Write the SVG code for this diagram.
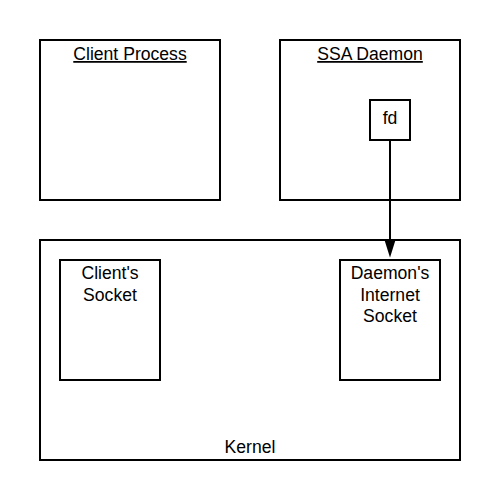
<svg xmlns="http://www.w3.org/2000/svg" width="500" height="500" viewBox="0 0 500 500">
<style>
rect{fill:#fff;stroke:#000;stroke-width:2}
text{font-family:"Liberation Sans",Arial,sans-serif;font-size:17.6px;fill:#000;text-anchor:middle}
.u{text-decoration:underline}
</style>
<defs>
<marker id="ah" markerUnits="userSpaceOnUse" markerWidth="12" markerHeight="18" refX="5" refY="17" orient="auto-start-reverse" viewBox="0 0 10 18">
<path d="M0,0 L5,17 L10,0 Z" fill="#000"/>
</marker>
</defs>
<rect width="500" height="500" style="stroke:none"/>
<g id="client-process"><rect x="40" y="40" width="180" height="160"/><text class="u" x="130" y="60">Client Process</text></g>
<g id="ssa-daemon"><rect x="280" y="40" width="180" height="160"/><text class="u" x="370" y="60">SSA Daemon</text></g>
<g id="kernel"><rect x="40" y="240" width="420" height="220"/><text x="250" y="452.5">Kernel</text></g>
<g id="fd"><rect x="370" y="100" width="40" height="40"/><text x="390" y="123.5">fd</text></g>
<g id="clients-socket"><rect x="60" y="260" width="100" height="120"/><text x="110" y="279">Client's</text><text x="110" y="300.5">Socket</text></g>
<g id="daemons-socket"><rect x="340" y="260" width="100" height="120"/><text x="390" y="279">Daemon's</text><text x="390" y="300.5">Internet</text><text x="390" y="322">Socket</text></g>
<g id="connectors">
<path d="M390,140 L390,240" stroke="#000" stroke-width="2" fill="none"/>
<path d="M384.5,240 L390,257.5 L395.5,240 Z" fill="#000"/>
</g>
</svg>
